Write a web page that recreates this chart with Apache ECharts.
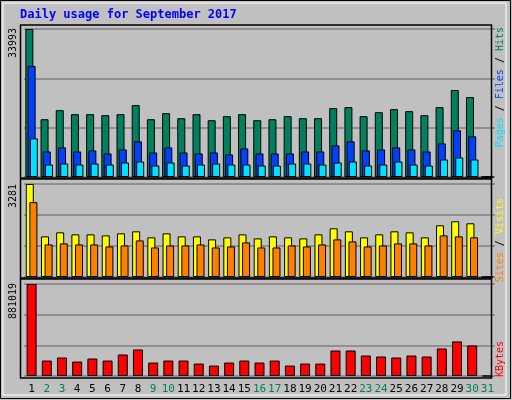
<!DOCTYPE html>
<html>
<head>
<meta charset="utf-8">
<script src="https://cdn.jsdelivr.net/npm/echarts@6/dist/echarts.min.js"></script>
<style>html,body,#main{width:512px;height:400px;margin:0;padding:0;background:#c0c0c0;}</style>
</head>
<body>
<div id="main"></div>
<script>
var days = [];
for (var d = 1; d <= 31; d++) days.push(String(d));
var weekend = ['2','3','9','10','16','17','23','24','30','31'];

var hits = [33993,13270,15350,14430,14430,14200,14430,16510,13270,14660,13500,14430,13040,13970,14430,13040,13270,13970,13500,13500,15820,16050,13970,14890,15590,15120,14200,16050,19980,18360,0];
var files = [25530,5870,6800,5870,6100,5410,6340,8190,5640,6800,5640,5410,5640,5180,6570,5410,5410,5410,5870,5870,7260,8190,6100,6340,6800,6340,5870,7720,10730,9340,0];
var pages = [8880,2870,3100,2870,3100,2870,3330,3560,2640,3330,2640,2870,3100,2870,2870,2640,2640,3100,3100,2870,3330,3560,2640,2870,3560,2870,2640,4020,4490,4020,0];
var visits = [3281,1433,1575,1504,1504,1469,1540,1611,1398,1540,1433,1433,1327,1398,1504,1362,1433,1398,1362,1504,1718,1611,1398,1504,1611,1575,1398,1824,1966,1895,0];
var sites = [2641,1149,1185,1149,1149,1078,1113,1291,1042,1113,1113,1149,1042,1078,1220,1042,1042,1113,1078,1149,1327,1256,1078,1113,1185,1185,1113,1469,1433,1398,0];
var kbytes = [881019,147900,176800,138200,167200,147900,205800,254000,128600,147900,147900,119000,99700,128600,147900,128600,147900,99700,119000,119000,244300,244300,196100,186500,176800,196100,186500,263600,331100,292600,0];

var chart = echarts.init(document.getElementById('main'));
var font = '"DejaVu Sans Mono", monospace';

function yAx(idx, max) {
    return {
        type: 'value', gridIndex: idx, min: 0, max: max, interval: max / 3,
        axisLabel: {show: false}, axisLine: {show: false}, axisTick: {show: false},
        splitLine: {lineStyle: {color: '#808080', width: 1.5}}
    };
}
function xAx(idx, show) {
    return {
        type: 'category', gridIndex: idx, data: days,
        axisLine: {show: false}, axisTick: {show: false},
        axisLabel: {
            show: show, interval: 0, margin: 8, fontFamily: font, fontSize: 11,
            formatter: function (v) { return weekend.indexOf(v) >= 0 ? '{w|' + v + '}' : '{n|' + v + '}'; },
            rich: {w: {color: '#00805c', fontFamily: font, fontSize: 11}, n: {color: '#000', fontFamily: font, fontSize: 11}}
        }
    };
}
function bar(name, x, data, color, w, gap) {
    return {
        name: name, type: 'bar', xAxisIndex: x, yAxisIndex: x, data: data,
        barWidth: w, barGap: gap, animation: false,
        itemStyle: {color: color, borderColor: '#000', borderWidth: 1}
    };
}
function frame(y, h) {
    return {type: 'rect', z: 100, shape: {x: 20.5, y: y, width: 471, height: h}, style: {fill: null, stroke: '#000', lineWidth: 1.5}};
}
function vtext(x, y, rich, text) {
    return {type: 'text', x: x, y: y, rotation: Math.PI / 2,
        style: {text: text, rich: rich, font: '10px ' + font, align: 'right', verticalAlign: 'middle'}};
}
function ylab(y, text) {
    return {type: 'text', x: 13, y: y, rotation: Math.PI / 2,
        style: {text: text, fill: '#000', font: '10px ' + font, align: 'right', verticalAlign: 'middle'}};
}

chart.setOption({
    backgroundColor: '#c0c0c0',
    grid: [
        {left: 24, right: 17, top: 29, height: 148},
        {left: 24, right: 17, top: 184, height: 93},
        {left: 24, right: 17, top: 284, height: 92}
    ],
    xAxis: [xAx(0, false), xAx(1, false), xAx(2, true)],
    yAxis: [yAx(0, 33993), yAx(1, 3281), yAx(2, 881019)],
    series: [
        bar('Hits', 0, hits, '#00805c', 8, '-72%'),
        bar('Files', 0, files, '#0040ff', 8, '-72%'),
        bar('Pages', 0, pages, '#00e0ff', 8, '-72%'),
        bar('Visits', 1, visits, '#ffff00', 8, '-55%'),
        bar('Sites', 1, sites, '#ff8000', 8, '-55%'),
        bar('KBytes', 2, kbytes, '#ff0000', 10, '0%')
    ],
    graphic: [
        {type: 'rect', z: -10, shape: {x: 0.5, y: 0.5, width: 510, height: 398}, style: {fill: null, stroke: '#000', lineWidth: 1}},
        {type: 'rect', z: -10, shape: {x: 3, y: 3, width: 503, height: 392}, style: {fill: null, stroke: '#fff', lineWidth: 1}},
        {type: 'text', x: 20, y: 9, style: {text: 'Daily usage for September 2017', fill: '#0000ff', font: 'bold 12px ' + font}},
        frame(25, 153), frame(179, 99), frame(279, 99),
        ylab(28, '33993'), ylab(184, '3281'), ylab(283, '881019'),
        vtext(500, 27, {p: {fill: '#00e0ff'}, f: {fill: '#0040ff'}, h: {fill: '#00805c'}, s: {fill: '#000'}},
            '{p|Pages}{s| / }{f|Files}{s| / }{h|Hits}'),
        vtext(500, 198, {a: {fill: '#ff8000'}, b: {fill: '#ffff00'}, s: {fill: '#000'}},
            '{a|Sites}{s| / }{b|Visits}'),
        vtext(500, 341, {k: {fill: '#ff0000'}}, '{k|KBytes}')
    ]
});
</script>
</body>
</html>
